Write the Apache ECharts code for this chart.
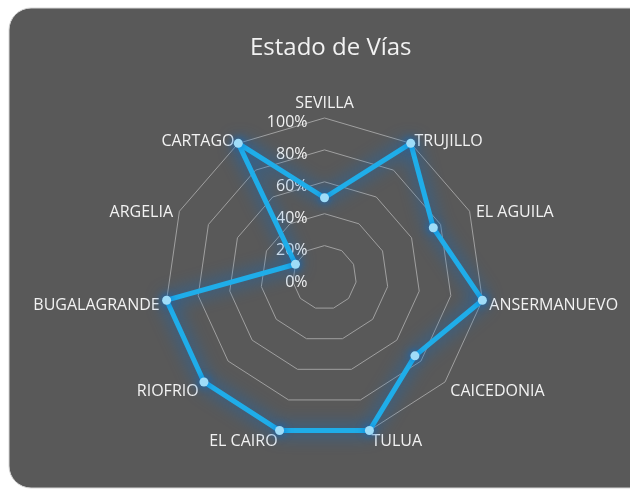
<!DOCTYPE html>
<html>
<head>
<meta charset="utf-8">
<style>
  html, body { margin: 0; padding: 0; background: #ffffff; }
  #chart { width: 630px; height: 489px; }
</style>
<script src="https://cdn.jsdelivr.net/npm/echarts@6/dist/echarts.min.js"></script>
</head>
<body>
<div id="chart"></div>
<script>
// categorias en el orden de Excel (sentido horario desde arriba)
var municipios = ["SEVILLA", "TRUJILLO", "EL AGUILA", "ANSERMANUEVO", "CAICEDONIA", "TULUA",
  "EL CAIRO", "RIOFRIO", "BUGALAGRANDE", "ARGELIA", "CARTAGO"];
var estadoVias = [50, 100, 75, 100, 75, 100, 100, 100, 100, 20, 100];
var escala = ["0%", "20%", "40%", "60%", "80%", "100%"];

// echarts dibuja el radar en sentido antihorario, se invierte el orden
function horario(arr) {
  return [arr[0]].concat(arr.slice(1).reverse());
}

var chart = echarts.init(document.getElementById("chart"));

var indicadores = horario(municipios).map(function (n, i) {
  var ind = { name: n, max: 100, min: 0 };
  if (i === 0) {
    ind.axisLabel = {
      show: true,
      color: "#f2f2f2",
      fontSize: 16,
      fontFamily: "Open Sans",
      margin: 17,
      formatter: function (v) {
        return "{p|" + escala[Math.round(v / 20)] + "}";
      },
      rich: {
        p: { padding: [9, 0, 0, 0], fontSize: 16, color: "#f2f2f2", fontFamily: "Open Sans" }
      }
    };
  }
  return ind;
});

chart.setOption({
  backgroundColor: "#ffffff",
  graphic: [
    {
      type: "rect",
      z: -10,
      silent: true,
      shape: { x: 9, y: 8, width: 640, height: 480, r: [22, 0, 0, 22] },
      style: { fill: "#595959", stroke: "#d6d6d6", lineWidth: 1 }
    }
  ],
  title: {
    text: "Estado de Vías",
    left: 245,
    top: 31,
    textStyle: {
      color: "#f2f2f2",
      fontFamily: "Open Sans",
      fontWeight: "normal",
      fontSize: 24
    }
  },
  radar: {
    center: [324.5, 277.5],
    radius: 159.5,
    startAngle: 90,
    shape: "polygon",
    splitNumber: 5,
    indicator: indicadores,
    axisName: {
      color: "#f2f2f2",
      fontSize: 16,
      fontFamily: "Open Sans",
      formatter: function (name) {
        return "{n|" + name + "}";
      },
      rich: {
        n: { padding: [9, 0, 0, 0], fontSize: 16, color: "#f2f2f2", fontFamily: "Open Sans" }
      }
    },
    nameGap: 7,
    axisLine: { show: false },
    axisTick: { show: false },
    axisLabel: { show: false },
    splitArea: { show: false },
    splitLine: {
      lineStyle: { color: "#a0a0a0", width: 1 }
    }
  },
  series: [
    {
      type: "radar",
      symbol: "circle",
      symbolSize: 9,
      data: [
        {
          value: horario(estadoVias),
          name: "Estado",
          lineStyle: {
            color: "#1fade9",
            width: 5,
            shadowBlur: 18,
            shadowColor: "rgba(0, 110, 210, 1)"
          },
          itemStyle: {
            color: "#9fdcf8",
            shadowBlur: 8,
            shadowColor: "rgba(0, 110, 210, 1)"
          }
        }
      ]
    }
  ]
});
</script>
</body>
</html>
